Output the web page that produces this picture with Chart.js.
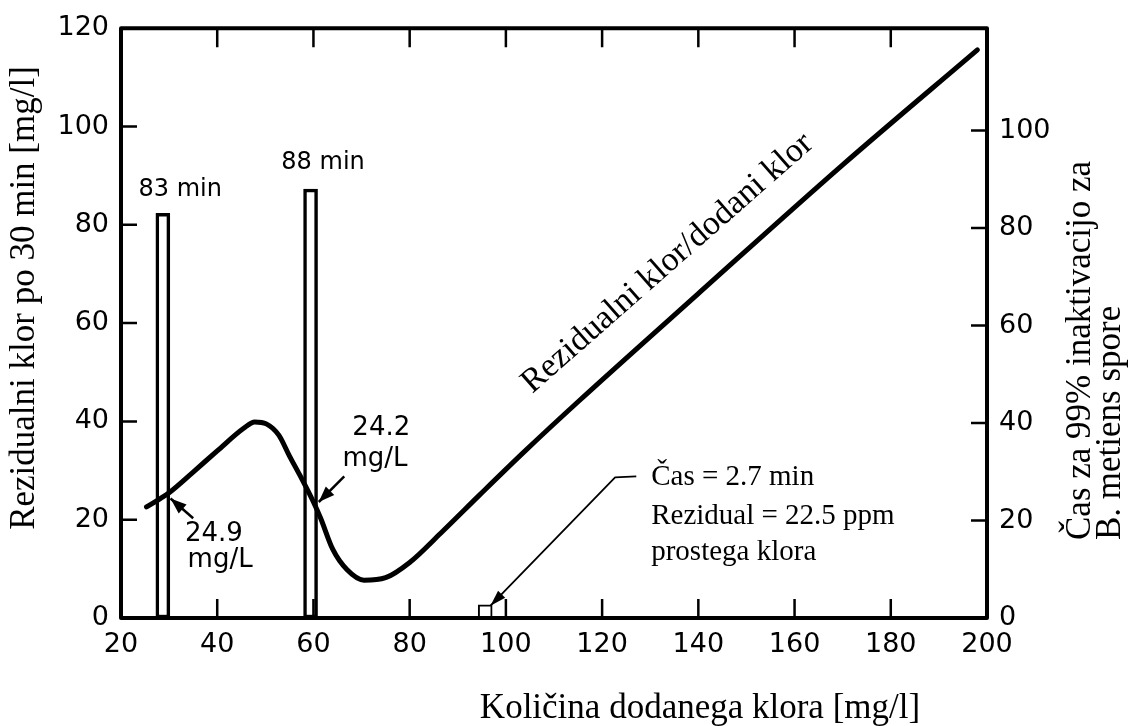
<!DOCTYPE html>
<html>
<head>
<meta charset="utf-8">
<script src="https://cdn.jsdelivr.net/npm/chart.js@4.4.1/dist/chart.umd.min.js"></script>
<style>
  html, body { margin: 0; padding: 0; background: #fff; }
  canvas { display: block; }
</style>
</head>
<body>
<canvas id="klor-chart" width="1130" height="726"></canvas>
<script>
// Rezidualni klor vs. dodani klor
const dodaniKlor = [25.3, 28, 30, 35, 40, 45.5, 47.8, 50.2, 52.8, 55, 57.2, 59.9, 61.5, 64, 67, 70.5, 75, 80, 86.5, 94.5, 104, 115, 140, 170, 198];
const rezidualniKlor = [22.6, 24.2, 25.5, 29.7, 34, 38.6, 39.9, 39.5, 37.2, 33, 29, 23.8, 20.3, 14, 9.8, 7.7, 8.2, 11.3, 17.3, 25, 34, 44, 66, 92.2, 115.6];

// Cas za 99% inaktivacijo (bars, right axis)
const casDoza = [28.7, 59.4, 95.7];
const casInaktivacije = [83, 88, 2.7];
const casOznake = ['83 min', '88 min', ''];

const xTicks = [20, 40, 60, 80, 100, 120, 140, 160, 180, 200];
const yTicks = [0, 20, 40, 60, 80, 100, 120];
const y2Ticks = [0, 20, 40, 60, 80, 100];

const sans = 'DejaVu Sans';
const serif = 'Liberation Serif';

function arrowHead(ctx, from, to, len, half) {
  const ang = Math.atan2(to[1] - from[1], to[0] - from[0]);
  ctx.beginPath();
  ctx.moveTo(to[0], to[1]);
  ctx.lineTo(to[0] - len * Math.cos(ang) + half * Math.sin(ang), to[1] - len * Math.sin(ang) - half * Math.cos(ang));
  ctx.lineTo(to[0] - len * Math.cos(ang) - half * Math.sin(ang), to[1] - len * Math.sin(ang) + half * Math.cos(ang));
  ctx.closePath();
  ctx.fill();
}

const overlay = {
  id: 'overlay',
  afterDatasetsDraw(chart) {
    const { ctx, chartArea: a, scales } = chart;
    const { x, y, y2 } = scales;
    const px = (vx, vy) => [x.getPixelForValue(vx), y.getPixelForValue(vy)];

    ctx.save();
    ctx.strokeStyle = '#000';
    ctx.fillStyle = '#000';
    ctx.lineCap = 'butt';

    // inward tick marks
    ctx.lineWidth = 2.5;
    ctx.beginPath();
    x.ticks.forEach(t => {
      if (t.value <= x.min || t.value >= x.max) return;
      const p = x.getPixelForValue(t.value);
      ctx.moveTo(p, a.bottom); ctx.lineTo(p, a.bottom - 19);
      ctx.moveTo(p, a.top); ctx.lineTo(p, a.top + 19);
    });
    y.ticks.forEach(t => {
      if (t.value <= y.min || t.value >= y.max) return;
      const p = y.getPixelForValue(t.value);
      ctx.moveTo(a.left, p); ctx.lineTo(a.left + 16, p);
    });
    y2.ticks.forEach(t => {
      if (t.value <= y2.min || t.value >= y2.max) return;
      const p = y2.getPixelForValue(t.value);
      ctx.moveTo(a.right, p); ctx.lineTo(a.right - 16, p);
    });
    ctx.stroke();

    // frame
    ctx.lineWidth = 4;
    ctx.lineJoin = 'round';
    ctx.strokeRect(a.left, a.top, a.right - a.left, a.bottom - a.top);

    // bar labels
    ctx.font = '24px "' + sans + '"';
    ctx.textAlign = 'center';
    ctx.textBaseline = 'middle';
    ctx.fillText(casOznake[0], x.getPixelForValue(32.3), y.getPixelForValue(87.2));
    ctx.fillText(casOznake[1], x.getPixelForValue(62), y.getPixelForValue(92.6));

    // 24.9 mg/L and 24.2 mg/L callouts
    ctx.font = '26px "' + sans + '"';
    ctx.fillText('24.9', ...px(39.3, 17.1));
    ctx.fillText('mg/L', ...px(40.6, 11.7));
    ctx.fillText('24.2', ...px(74.1, 38.7));
    ctx.fillText('mg/L', ...px(72.8, 32.4));

    ctx.lineWidth = 2.5;
    let f = px(35, 20.3), t = px(30.3, 24.3);
    ctx.beginPath(); ctx.moveTo(...f); ctx.lineTo(...t); ctx.stroke();
    arrowHead(ctx, f, t, 16, 6);
    f = px(66.4, 28.8); t = px(61.1, 23.6);
    ctx.beginPath(); ctx.moveTo(...f); ctx.lineTo(...t); ctx.stroke();
    arrowHead(ctx, f, t, 16, 6);

    // Cas = 2.7 min leader
    ctx.lineWidth = 1.8;
    const s = px(127.1, 28.8), c = px(122.7, 28.6);
    t = px(96.8, 2.5);
    ctx.beginPath(); ctx.moveTo(...s); ctx.lineTo(...c); ctx.lineTo(...t); ctx.stroke();
    arrowHead(ctx, c, t, 16, 5);

    ctx.font = '29px "' + serif + '"';
    ctx.textAlign = 'left';
    ctx.fillText('Čas = 2.7 min', ...px(130.2, 28.6));
    ctx.fillText('Rezidual = 22.5 ppm', ...px(130.2, 20.7));
    ctx.fillText('prostega klora', ...px(130.2, 13.3));

    // label along the line
    ctx.save();
    ctx.translate(...px(134.8, 70.8));
    ctx.rotate(-41.3 * Math.PI / 180);
    ctx.font = '34px "' + serif + '"';
    ctx.textAlign = 'center';
    ctx.textBaseline = 'alphabetic';
    ctx.fillText('Rezidualni klor/dodani klor', 0, 0);
    ctx.restore();

    // axis titles
    ctx.font = '35px "' + serif + '"';
    ctx.textAlign = 'center';
    ctx.textBaseline = 'alphabetic';
    ctx.fillText('Količina dodanega klora [mg/l]', 700, 718);

    ctx.save();
    ctx.translate(25, 298);
    ctx.rotate(-Math.PI / 2);
    ctx.textBaseline = 'middle';
    ctx.fillText('Rezidualni klor po 30 min [mg/l]', 0, 0);
    ctx.restore();

    ctx.save();
    ctx.translate(1081, 540);
    ctx.rotate(-Math.PI / 2);
    ctx.textAlign = 'left';
    ctx.textBaseline = 'middle';
    ctx.fillText('Čas za 99% inaktivacijo za', 0, 0);
    ctx.fillText('B. metiens spore', 0, 30);
    ctx.restore();

    ctx.restore();
  }
};

const tickFont = { family: sans, size: 27 };

new Chart(document.getElementById('klor-chart'), {
  type: 'line',
  data: {
    datasets: [
      {
        label: 'Rezidualni klor',
        data: dodaniKlor.map((v, i) => ({ x: v, y: rezidualniKlor[i] })),
        borderColor: '#000',
        borderWidth: 5,
        pointRadius: 0,
        cubicInterpolationMode: 'monotone',
        borderCapStyle: 'round',
        yAxisID: 'y',
        order: 0
      },
      {
        type: 'bar',
        label: 'Čas za 99% inaktivacijo',
        data: casDoza.map((v, i) => ({ x: v, y: casInaktivacije[i] })),
        backgroundColor: '#fff',
        borderColor: '#000',
        borderWidth: [3.5, 3.5, 2],
        borderSkipped: false,
        barThickness: 14,
        yAxisID: 'y2',
        order: 1
      }
    ]
  },
  options: {
    responsive: false,
    animation: false,
    layout: { padding: { top: 22, left: 0, right: 0, bottom: 0 } },
    plugins: {
      legend: { display: false },
      tooltip: { enabled: false }
    },
    scales: {
      x: {
        type: 'linear',
        position: 'bottom',
        min: 20,
        max: 200,
        offset: false,
        afterBuildTicks: s => { s.ticks = xTicks.map(v => ({ value: v })); },
        afterFit: s => { s.height = 108; },
        grid: { display: false, drawTicks: false },
        border: { display: false },
        ticks: { font: tickFont, color: '#000', padding: 11, maxRotation: 0, autoSkip: false }
      },
      y: {
        type: 'linear',
        position: 'left',
        min: 0,
        max: 120,
        afterBuildTicks: s => { s.ticks = yTicks.map(v => ({ value: v })); },
        afterFit: s => { s.width = 121; },
        grid: { display: false, drawTicks: false },
        border: { display: false },
        ticks: { font: tickFont, color: '#000', padding: 12, autoSkip: false }
      },
      y2: {
        type: 'linear',
        position: 'right',
        min: 0,
        max: 121,
        afterBuildTicks: s => { s.ticks = y2Ticks.map(v => ({ value: v })); },
        afterFit: s => { s.width = 143; },
        grid: { display: false, drawTicks: false },
        border: { display: false },
        ticks: { font: tickFont, color: '#000', padding: 12, autoSkip: false }
      }
    }
  },
  plugins: [overlay]
});
</script>
</body>
</html>
